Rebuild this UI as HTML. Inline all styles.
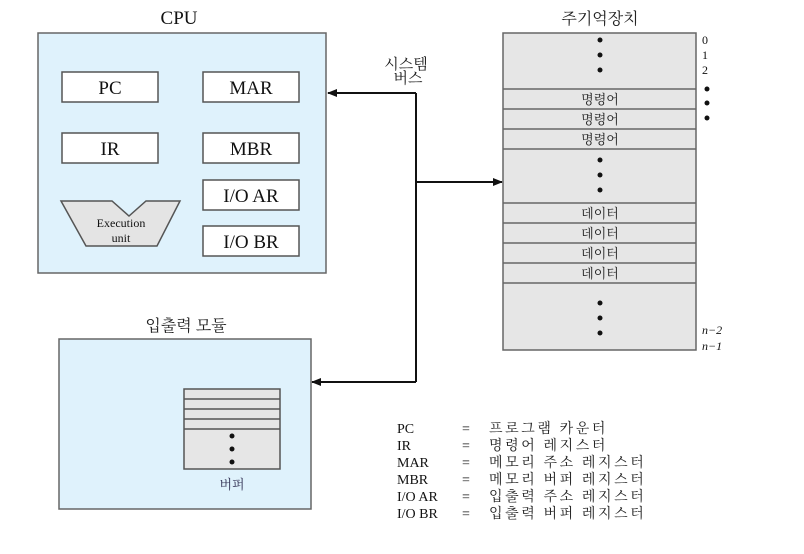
<!DOCTYPE html>
<html><head><meta charset="utf-8"><style>
body{margin:0;background:#fff}
svg{display:block}
.s{font-family:"Liberation Serif",serif;fill:#111}
.k{font-family:"Liberation Serif","Noto Serif CJK SC","Noto Sans CJK KR",serif;fill:#222}
</style></head><body>
<svg width="804" height="554" viewBox="0 0 804 554" xmlns="http://www.w3.org/2000/svg">
<defs><marker id="a" markerWidth="10" markerHeight="8" refX="9" refY="4" orient="auto" markerUnits="userSpaceOnUse"><path d="M0,0 L10,4 L0,8 Z" fill="#111"/></marker></defs>
<text x="179" y="24" class="s" font-size="19" text-anchor="middle">CPU</text>
<rect x="38" y="33" width="288" height="240" fill="#dff2fc" stroke="#666" stroke-width="1.5"/>
<g fill="#fff" stroke="#555" stroke-width="1.5">
<rect x="62" y="72" width="96" height="30"/><rect x="203" y="72" width="96" height="30"/>
<rect x="62" y="133" width="96" height="30"/><rect x="203" y="133" width="96" height="30"/>
<rect x="203" y="180" width="96" height="30"/><rect x="203" y="226" width="96" height="30"/>
<path d="M61,201 L112,201 L129,216 L146,201 L180,201 L157,246 L86,246 Z" fill="#e4e4e4"/>
</g>
<g class="s" font-size="19" text-anchor="middle">
<text x="110" y="94">PC</text><text x="251" y="94">MAR</text>
<text x="110" y="155">IR</text><text x="251" y="155">MBR</text>
<text x="251" y="202">I/O AR</text><text x="251" y="248">I/O BR</text>
</g>
<text x="121" y="227" class="s" font-size="12" text-anchor="middle">Execution</text>
<text x="121" y="242" class="s" font-size="12" text-anchor="middle">unit</text>
<text x="406" y="69" class="k" font-size="15" text-anchor="middle">시스템</text>
<text x="408" y="83" class="k" font-size="15" text-anchor="middle">버스</text>
<g stroke="#111" stroke-width="2" fill="none">
<path d="M416,93 L416,382"/>
<path d="M416,93 L328,93" marker-end="url(#a)"/>
<path d="M416,382 L312,382" marker-end="url(#a)"/>
<path d="M416,182 L502,182" marker-end="url(#a)"/>
</g>
<text x="600" y="24" class="k" font-size="16" text-anchor="middle">주기억장치</text>
<rect x="503" y="33" width="193" height="317" fill="#e6e6e6" stroke="#666" stroke-width="1.5"/>
<g stroke="#666" stroke-width="1.5">
<line x1="503" y1="89" x2="696" y2="89"/><line x1="503" y1="109" x2="696" y2="109"/>
<line x1="503" y1="129" x2="696" y2="129"/><line x1="503" y1="149" x2="696" y2="149"/>
<line x1="503" y1="203" x2="696" y2="203"/><line x1="503" y1="223" x2="696" y2="223"/>
<line x1="503" y1="243" x2="696" y2="243"/><line x1="503" y1="263" x2="696" y2="263"/>
<line x1="503" y1="283" x2="696" y2="283"/>
</g>
<g fill="#111">
<circle cx="600" cy="40" r="2.5"/><circle cx="600" cy="55" r="2.5"/><circle cx="600" cy="70" r="2.5"/>
<circle cx="600" cy="160" r="2.5"/><circle cx="600" cy="175" r="2.5"/><circle cx="600" cy="190" r="2.5"/>
<circle cx="600" cy="303" r="2.5"/><circle cx="600" cy="318" r="2.5"/><circle cx="600" cy="333" r="2.5"/>
<circle cx="707" cy="89" r="2.5"/><circle cx="707" cy="103" r="2.5"/><circle cx="707" cy="118" r="2.5"/>
</g>
<g class="k" font-size="13" text-anchor="middle">
<text x="600" y="104">명령어</text><text x="600" y="124">명령어</text><text x="600" y="144">명령어</text>
<text x="600" y="218">데이터</text><text x="600" y="238">데이터</text><text x="600" y="258">데이터</text><text x="600" y="278">데이터</text>
</g>
<g class="s" font-size="12">
<text x="702" y="44">0</text><text x="702" y="59">1</text><text x="702" y="74">2</text>
<text x="702" y="334" font-style="italic">n−2</text><text x="702" y="350" font-style="italic">n−1</text>
</g>
<text x="186" y="331" class="k" font-size="16" text-anchor="middle">입출력 모듈</text>
<rect x="59" y="339" width="252" height="170" fill="#dff2fc" stroke="#666" stroke-width="1.5"/>
<rect x="184" y="389" width="96" height="80" fill="#e6e6e6" stroke="#555" stroke-width="1.5"/>
<g stroke="#555" stroke-width="1.5">
<line x1="184" y1="399" x2="280" y2="399"/><line x1="184" y1="409" x2="280" y2="409"/>
<line x1="184" y1="419" x2="280" y2="419"/><line x1="184" y1="429" x2="280" y2="429"/>
</g>
<g fill="#111"><circle cx="232" cy="436" r="2.5"/><circle cx="232" cy="449" r="2.5"/><circle cx="232" cy="462" r="2.5"/></g>
<text x="232" y="489" class="k" font-size="13" text-anchor="middle" style="fill:#335">버퍼</text>
<g class="s" font-size="14">
<text x="397" y="433">PC</text><text x="397" y="450">IR</text><text x="397" y="467">MAR</text>
<text x="397" y="484">MBR</text><text x="397" y="501">I/O AR</text><text x="397" y="518">I/O BR</text>
<text x="462" y="433">=</text><text x="462" y="450">=</text><text x="462" y="467">=</text>
<text x="462" y="484">=</text><text x="462" y="501">=</text><text x="462" y="518">=</text>
</g>
<g class="k" font-size="14" letter-spacing="2.6">
<text x="489" y="433">프로그램 카운터</text>
<text x="489" y="450">명령어 레지스터</text>
<text x="489" y="467">메모리 주소 레지스터</text>
<text x="489" y="484">메모리 버퍼 레지스터</text>
<text x="489" y="501">입출력 주소 레지스터</text>
<text x="489" y="518">입출력 버퍼 레지스터</text>
</g>
</svg>
</body></html>
